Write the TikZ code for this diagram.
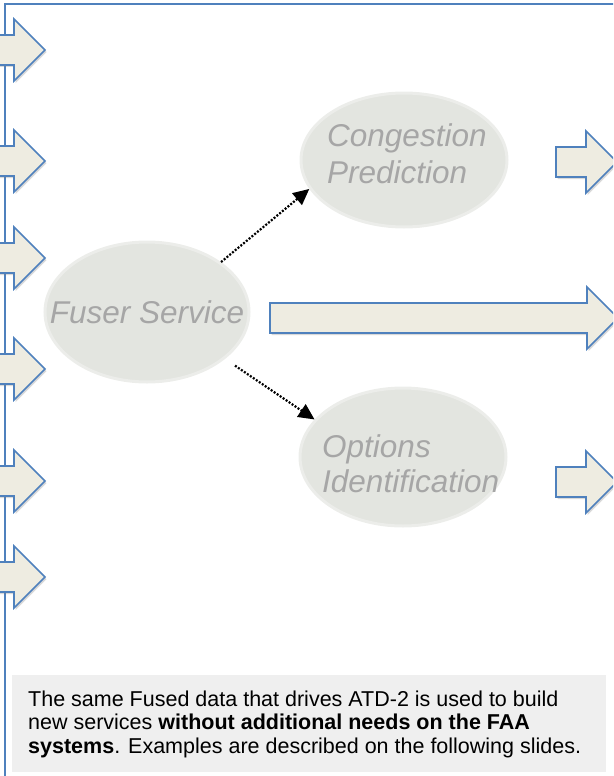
\documentclass[tikz,border=0pt]{standalone}
\usepackage{fontspec}
\setmainfont{Liberation Sans}
\usetikzlibrary{shapes.geometric,arrows.meta,shadows}

\definecolor{frameBlue}{HTML}{4F81BD}
\definecolor{blockFill}{HTML}{EEECE1}
\definecolor{bubbleFill}{HTML}{E3E5E0}
\definecolor{bubbleEdge}{HTML}{ECEDEA}
\definecolor{bubbleGrey}{HTML}{A6A6A6}
\definecolor{noteGrey}{HTML}{EFEFEF}

\begin{document}
\begin{tikzpicture}
[x=1pt,y=-1pt,
  frameDecorate/.style={draw=frameBlue,line width=2pt},%
  blockDecorate/.style={fill=blockFill,draw=frameBlue,line width=1.6pt,%
    drop shadow={shadow xshift=1.5pt,shadow yshift=-2pt,opacity=0.3}},%
  bubbleDecorate/.style={shape=ellipse,fill=bubbleFill,draw=bubbleEdge,line width=3pt,inner sep=0pt},%
  bubbleText/.style={text=bubbleGrey,font=\fontsize{31.5}{37}\selectfont\itshape,align=left,inner sep=0pt},%
  dotDecorate/.style={-{Triangle[length=16pt,width=15pt]},line width=2.2pt,dash pattern=on 2pt off 1.6pt}]
\useasboundingbox (0,0) rectangle (613,776);
\clip (0,0) rectangle (613,776);
%% frame
\draw[frameDecorate] (5,790) -- (5,4.5) -- (625,4.5);
%% block arrows
\foreach \xa/\xb/\y in {-8/14/50, -8/14/161, -8/14/258, -8/14/369, -8/14/481, -8/14/577,
  556/586/162, 270/587/318, 556/586/482}
{
  \draw[blockDecorate] (\xa,\y-15) -- (\xb,\y-15) -- (\xb,\y-31) -- (\xb+31,\y)
    -- (\xb,\y+31) -- (\xb,\y+15) -- (\xa,\y+15) -- cycle;
}
%% service bubbles
\foreach \nodename/\x/\y/\w/\h in {fuser/147/312/204/140, congestion/404/160/206/134, options/403/457/206/138}
{
  \node (\nodename) at (\x,\y) [bubbleDecorate,minimum width=\w pt,minimum height=\h pt] {};
}
\node (fuserText) at (147,312) [bubbleText] {Fuser Service};
\node (congestionText) at (327,183) [bubbleText,anchor=base west] {Congestion\\Prediction};
\node (optionsText) at (322,492) [bubbleText,anchor=base west,font=\fontsize{31.5}{35}\selectfont\itshape] {Options\\Identification};
%% dotted links
\draw[dotDecorate] (fuser.34) -- (congestion.197);
\draw[dotDecorate,shorten <=12pt] (fuser.-31) -- (options.157);
%% note
\fill[noteGrey] (12,675) rectangle (606,772);
\node (noteText) at (28,753) [anchor=base west,align=left,inner sep=0pt,font=\fontsize{21.5}{23.3}\selectfont]
  {The same Fused data that drives ATD-2 is used to build\\
   new services \textbf{without additional needs on the FAA}\\
   \textbf{systems}. Examples are described on the following slides.};
\end{tikzpicture}
\end{document}
